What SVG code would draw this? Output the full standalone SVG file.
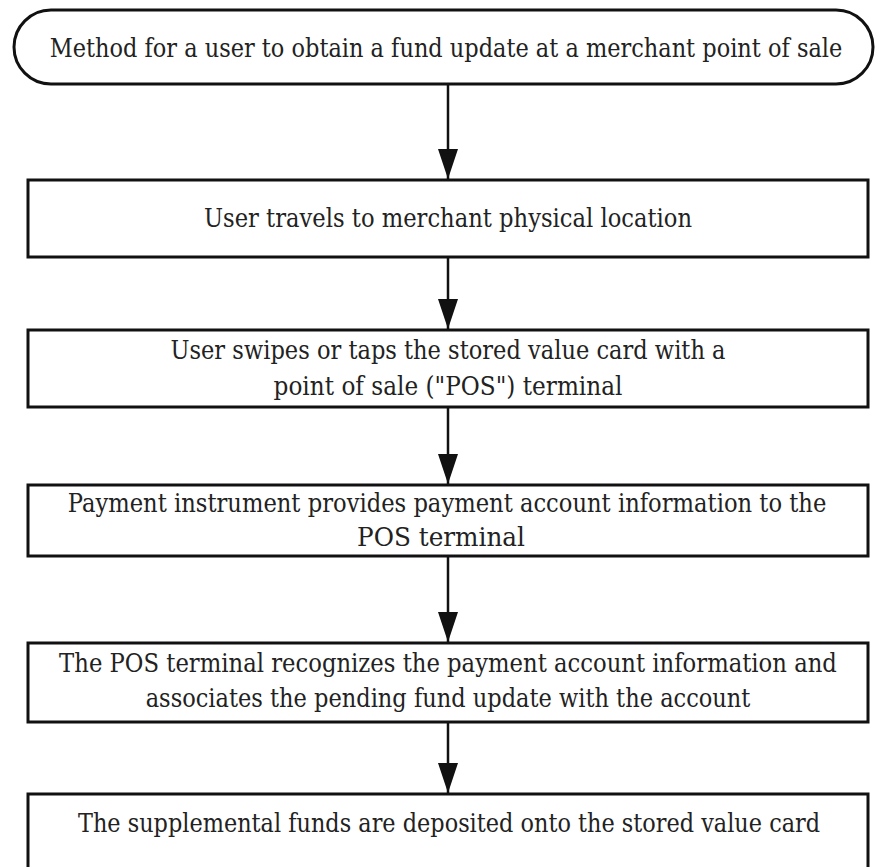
<svg xmlns="http://www.w3.org/2000/svg" width="875" height="867" viewBox="0 0 875 867">
<style>
.box{fill:#fff;stroke:#111;stroke-width:3}
.lbl{font-family:'DejaVu Serif',serif;font-size:26px;fill:#222;text-anchor:middle}
.conn{stroke:#111;stroke-width:2.5;fill:none}
</style>
<defs>
<marker id="arr" markerUnits="userSpaceOnUse" markerWidth="30" markerHeight="20" viewBox="0 0 30 20" refX="30" refY="10" orient="auto">
<path d="M0,0 L30,10 L0,20 Z" fill="#111"/>
</marker>
</defs>
<rect width="875" height="867" fill="#fff"/>
<g id="connectors">
<line class="conn" x1="448" y1="84" x2="448" y2="179" marker-end="url(#arr)"/>
<line class="conn" x1="448" y1="257" x2="448" y2="329" marker-end="url(#arr)"/>
<line class="conn" x1="448" y1="407" x2="448" y2="484" marker-end="url(#arr)"/>
<line class="conn" x1="448" y1="556" x2="448" y2="642" marker-end="url(#arr)"/>
<line class="conn" x1="448" y1="722" x2="448" y2="793" marker-end="url(#arr)"/>
</g>
<g id="start">
<rect class="box" x="14" y="10" width="859" height="74" rx="37" ry="37"/>
<text class="lbl" transform="translate(446,57) scale(0.87,1)" textLength="911" lengthAdjust="spacingAndGlyphs">Method for a user to obtain a fund update at a merchant point of sale</text>
</g>
<g id="step1">
<rect class="box" x="28" y="180" width="840" height="77"/>
<text class="lbl" transform="translate(448,227) scale(0.87,1)" textLength="561" lengthAdjust="spacingAndGlyphs">User travels to merchant physical location</text>
</g>
<g id="step2">
<rect class="box" x="28" y="330" width="840" height="77"/>
<text class="lbl" transform="translate(448,359) scale(0.87,1)" textLength="638" lengthAdjust="spacingAndGlyphs">User swipes or taps the stored value card with a</text>
<text class="lbl" transform="translate(448,395) scale(0.87,1)" textLength="401" lengthAdjust="spacingAndGlyphs">point of sale ("POS") terminal</text>
</g>
<g id="step3">
<rect class="box" x="28" y="485" width="840" height="71"/>
<text class="lbl" transform="translate(447,512) scale(0.87,1)" textLength="872" lengthAdjust="spacingAndGlyphs">Payment instrument provides payment account information to the</text>
<text class="lbl" transform="translate(441,546) scale(0.87,1)" textLength="193" lengthAdjust="spacingAndGlyphs">POS terminal</text>
</g>
<g id="step4">
<rect class="box" x="28" y="643" width="840" height="79"/>
<text class="lbl" transform="translate(448,672) scale(0.87,1)" textLength="894" lengthAdjust="spacingAndGlyphs">The POS terminal recognizes the payment account information and</text>
<text class="lbl" transform="translate(448,707) scale(0.87,1)" textLength="695" lengthAdjust="spacingAndGlyphs">associates the pending fund update with the account</text>
</g>
<g id="step5">
<rect class="box" x="28" y="794" width="840" height="80"/>
<text class="lbl" transform="translate(449,832) scale(0.87,1)" textLength="853" lengthAdjust="spacingAndGlyphs">The supplemental funds are deposited onto the stored value card</text>
</g>
</svg>
